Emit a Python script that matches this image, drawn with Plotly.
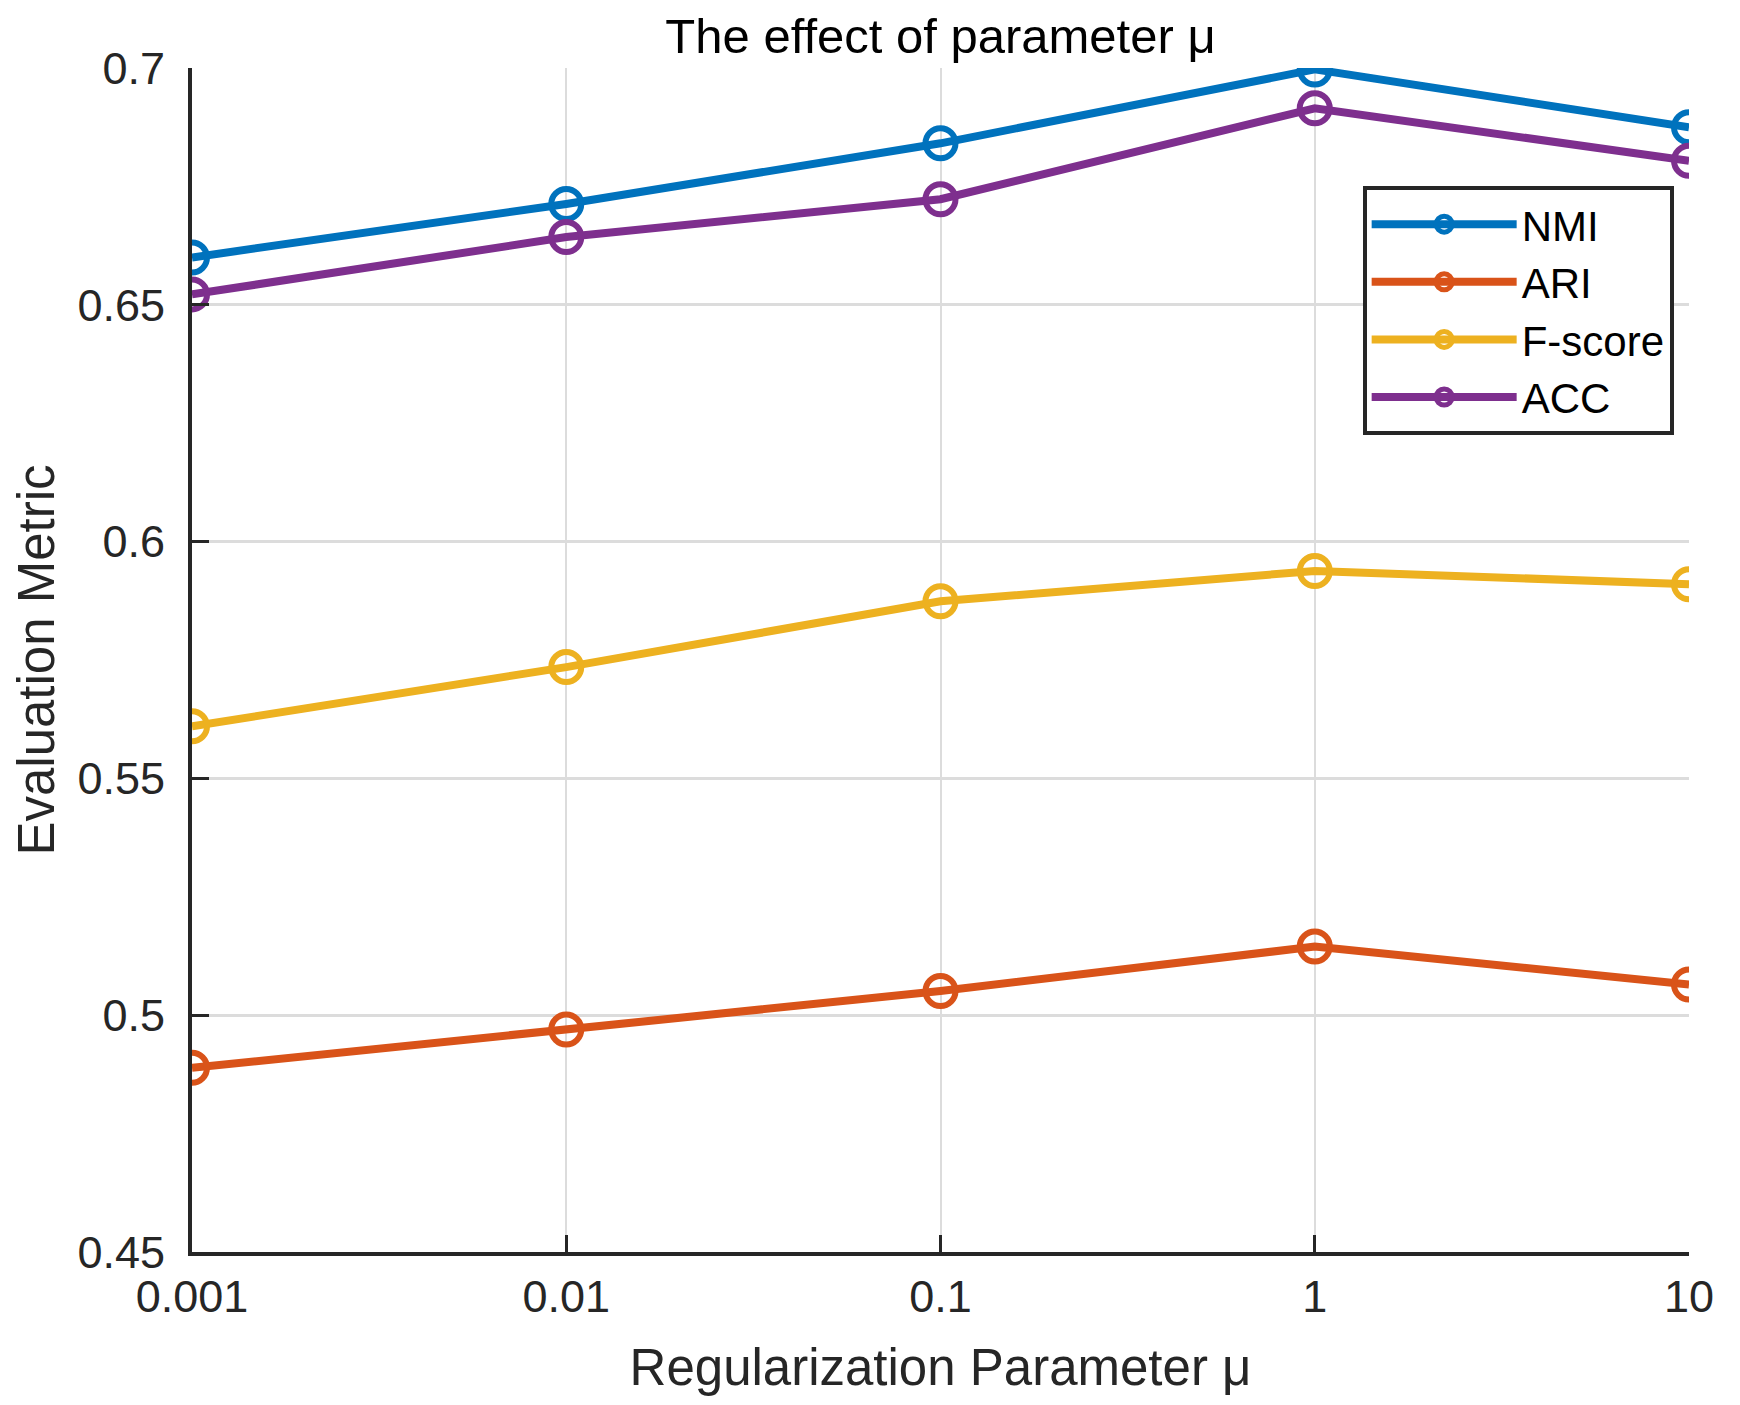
import plotly.graph_objects as go

mu = [0.001, 0.01, 0.1, 1, 10]
mu_labels = ['0.001', '0.01', '0.1', '1', '10']

nmi = [0.660, 0.6713, 0.6841, 0.6997, 0.6875]
ari = [0.4889, 0.4970, 0.5051, 0.5145, 0.5065]
fscore = [0.5610, 0.5735, 0.5874, 0.5938, 0.5910]
acc = [0.6522, 0.6643, 0.6723, 0.6915, 0.6804]

y_ticks = [0.45, 0.5, 0.55, 0.6, 0.65, 0.7]
y_labels = ['0.45', '0.5', '0.55', '0.6', '0.65', '0.7']

series = [('NMI', nmi, '#0072BD'),
          ('ARI', ari, '#D95319'),
          ('F-score', fscore, '#EDB120'),
          ('ACC', acc, '#7E2F8E')]

font = 'Arial, Liberation Sans, sans-serif'
dark = '#262626'

fig = go.Figure()
for name, vals, col in series:
    fig.add_trace(go.Scatter(x=mu, y=vals, name=name, mode='lines+markers',
                             line=dict(color=col, width=8),
                             marker=dict(symbol='circle-open', size=30,
                                         color=col, line=dict(color=col, width=6))))

# page body has an 8px margin, so the figure is a bit smaller than the window
fig.update_layout(
    width=1732, height=1397,
    margin=dict(l=179, r=51, t=60, b=153),
    plot_bgcolor='white', paper_bgcolor='white',
    font=dict(family=font, color=dark, size=45),
    title=dict(text='The effect of parameter μ', x=0.5, xref='paper', xanchor='center',
               y=1, yref='paper', yanchor='bottom', pad=dict(b=15),
               font=dict(family=font, size=49, color='black')),
    legend=dict(x=0.782, y=0.9, xanchor='left', yanchor='top',
                bgcolor='white', bordercolor=dark, borderwidth=4,
                font=dict(family=font, size=42, color='black'),
                itemwidth=145),
    showlegend=True,
)

fig.update_xaxes(type='log', range=[-3, 1], tickvals=mu, ticktext=mu_labels,
                 showline=True, linecolor=dark, linewidth=4,
                 ticks='inside', ticklen=17, tickwidth=3, tickcolor=dark,
                 showgrid=True, gridcolor='#dcdcdc', gridwidth=2,
                 zeroline=False, ticklabelstandoff=2,
                 title=dict(text='Regularization Parameter μ', standoff=29,
                            font=dict(family=font, size=51, color=dark)))
fig.update_yaxes(range=[0.45, 0.7], tickvals=y_ticks, ticktext=y_labels,
                 showline=True, linecolor=dark, linewidth=4,
                 ticks='inside', ticklen=17, tickwidth=3, tickcolor=dark,
                 showgrid=True, gridcolor='#dcdcdc', gridwidth=3,
                 zeroline=False, ticklabelstandoff=14,
                 title=dict(text='Evaluation Metric', standoff=22,
                            font=dict(family=font, size=51, color=dark)))

fig.write_html('out.html')
